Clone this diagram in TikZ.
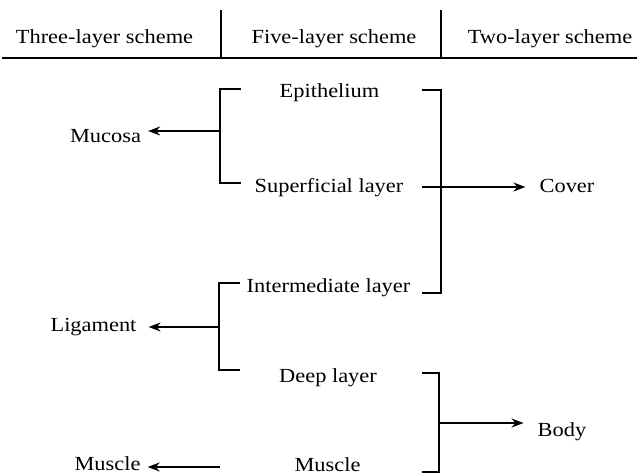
\documentclass[tikz,border=0pt]{standalone}
\usepackage{fontspec}
\setmainfont[FakeStretch=1.12]{Liberation Serif}
\usetikzlibrary{arrows.meta}
\begin{document}
\begin{tikzpicture}[x=1pt,y=-1pt,
  lbl/.style={inner sep=0pt,anchor=base,font=\fontsize{20}{24}\selectfont},
  ln/.style={line width=1.4pt},
  arr/.style={line width=1.4pt,-{Stealth[length=12pt,width=9pt]}}]
\useasboundingbox (0,0) rectangle (637,475);
% header
\node[lbl] (h3) at (104.5,43) {Three-layer scheme};
\node[lbl] (h5) at (334,43) {Five-layer scheme};
\node[lbl] (h2) at (550,43) {Two-layer scheme};
\coordinate (hl) at (2,58);
\coordinate (hr) at (637,58);
\coordinate (v1t) at (221,10);
\coordinate (v2t) at (441,10);
\draw[line width=1.6pt] (hl) -- (hr);
\draw[ln] (v1t) -- (v1t |- hl);
\draw[ln] (v2t) -- (v2t |- hl);
% middle column
\node[lbl] (epi) at (329.5,97) {Epithelium};
\node[lbl] (sup) at (329,192) {Superficial layer};
\node[lbl] (int) at (328.5,292) {Intermediate layer};
\node[lbl] (deep) at (328,382) {Deep layer};
\node[lbl] (mus) at (327.5,471) {Muscle};
% left column
\node[lbl] (muc) at (105.5,142) {Mucosa};
\node[lbl] (lig) at (93.5,331) {Ligament};
\node[lbl] (musl) at (107.5,470) {Muscle};
% right column
\node[lbl] (cov) at (567,192) {Cover};
\node[lbl] (body) at (562,436) {Body};
% bracket A: Epithelium + Superficial -> Mucosa
\coordinate (aT) at (241,89);
\coordinate (aB) at (241,183);
\coordinate (aM) at (220,131);
\draw[ln] (aT) -- (aM |- aT) -- (aM |- aB) -- (aB);
\draw[arr,shorten >=7pt] (aM) -- (aM -| muc.east);
% bracket B: Epithelium..Intermediate -> Cover
\coordinate (bT) at (422,90);
\coordinate (bB) at (422,293);
\coordinate (bV) at (441,90);
\draw[ln] (bT) -- (bV) -- (bV |- bB) -- (bB);
\coordinate (bS) at (422,187);
\draw[arr,shorten >=14pt] (bS) -- (bS -| cov.west);
% bracket C: Intermediate + Deep -> Ligament
\coordinate (cT) at (240,283);
\coordinate (cB) at (240,370);
\coordinate (cM) at (219,327);
\draw[ln] (cT) -- (cM |- cT) -- (cM |- cB) -- (cB);
\draw[arr,shorten >=12pt] (cM) -- (cM -| lig.east);
% bracket D: Deep + Muscle -> Body
\coordinate (dT) at (422,373);
\coordinate (dB) at (422,472);
\coordinate (dM) at (439,423);
\draw[ln] (dT) -- (dM |- dT) -- (dM |- dB) -- (dB);
\draw[arr,shorten >=14pt] (dM) -- (dM -| body.west);
% Muscle -> Muscle
\coordinate (eS) at (220,467);
\draw[arr,shorten >=7pt] (eS) -- (eS -| musl.east);
\end{tikzpicture}
\end{document}
